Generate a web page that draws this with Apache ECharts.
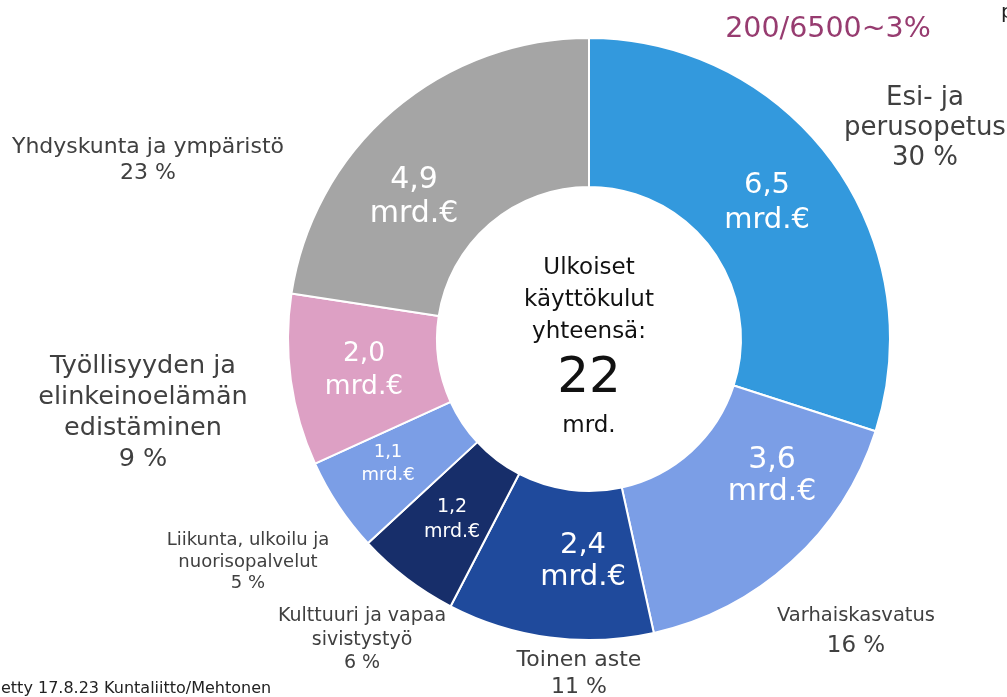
<!DOCTYPE html>
<html>
<head>
<meta charset="utf-8">
<script src="https://cdn.jsdelivr.net/npm/echarts@6/dist/echarts.min.js"></script>
<style>
  html, body { margin: 0; padding: 0; background: #fff; }
  #chart { width: 1007px; height: 697px; }
</style>
</head>
<body>
<div id="chart"></div>
<script>
// menoerät, mrd. €
const names = ['Esi- ja\nperusopetus', 'Varhaiskasvatus', 'Toinen aste', 'Kulttuuri ja vapaa\nsivistystyö',
  'Liikunta, ulkoilu ja\nnuorisopalvelut', 'Työllisyyden ja\nelinkeinoelämän\nedistäminen', 'Yhdyskunta ja ympäristö'];
const values = [6.5, 3.6, 2.4, 1.2, 1.1, 2.0, 4.9];
const valueLabels = ['6,5', '3,6', '2,4', '1,2', '1,1', '2,0', '4,9'];
const percents = ['30 %', '16 %', '11 %', '6 %', '5 %', '9 %', '23 %'];
const colors = ['#3399dd', '#7b9ee6', '#1f4a9c', '#172e6a', '#7b9ee6', '#dda0c4', '#a5a5a5'];

// label placement (layout only): [x, y, fontSize, lineHeight]
const innerPos = [[767, 203, 29, 35], [772, 476, 30, 32], [583, 561, 29, 32], [452, 520, 19, 25],
  [388, 464, 18, 23], [364, 371, 26.5, 33], [414, 197, 30, 34]];
const outerPos = [[925, 128, 26, 30], [856, 631, 19.5, 30], [579, 674, 22, 27], [362, 640, 19, 23.5],
  [248, 562, 18, 21.5], [143, 413, 25.5, 31], [148, 160, 22, 26]];

const font = '"DejaVu Sans", Verdana, sans-serif';
const chart = echarts.init(document.getElementById('chart'));

const innerData = values.map((v, i) => ({
  value: v,
  name: names[i],
  itemStyle: { color: colors[i] },
  label: {
    formatter: valueLabels[i] + '\nmrd.€',
    fontSize: innerPos[i][2],
    lineHeight: innerPos[i][3]
  }
}));

const outerData = values.map((v, i) => {
  const lbl = {
    formatter: names[i] + '\n' + percents[i],
    fontSize: outerPos[i][2],
    lineHeight: outerPos[i][3]
  };
  if (i === 1) {
    lbl.formatter = '{a|' + names[i] + '}\n{b|' + percents[i] + '}';
    lbl.rich = {
      a: { fontSize: 19.5, lineHeight: 30, color: '#404040', fontFamily: font },
      b: { fontSize: 23, lineHeight: 30, color: '#404040', fontFamily: font }
    };
  }
  return { value: v, name: names[i], label: lbl };
});

chart.setOption({
  animation: false,
  textStyle: { fontFamily: font },
  title: [
    { text: '200/6500~3%', left: 823, top: 10, textAlign: 'center',
      textStyle: { color: '#973c70', fontSize: 28.5, fontWeight: 'normal', fontFamily: font } },
    { text: 'p', left: 996, top: -2,
      textStyle: { color: '#222', fontSize: 20, fontWeight: 'normal', fontFamily: font } },
    { text: 'etty 17.8.23 Kuntaliitto/Mehtonen', left: 1, top: 681, padding: 0,
      textStyle: { color: '#222', fontSize: 16, fontWeight: 'normal', fontFamily: font } }
  ],
  graphic: [{
    type: 'text',
    style: {
      text: '{a|Ulkoiset\nkäyttökulut\nyhteensä:}\n{b|22}\n{a|mrd.}',
      x: 589, y: 347,
      align: 'center', verticalAlign: 'middle',
      rich: {
        a: { fontSize: 23, lineHeight: 32, fill: '#111', fontFamily: font, align: 'center' },
        b: { fontSize: 50, lineHeight: 62, fill: '#111', fontFamily: font, align: 'center' }
      }
    }
  }],
  series: [
    {
      type: 'pie',
      center: [589, 339],
      radius: [152, 301],
      startAngle: 90,
      clockwise: true,
      avoidLabelOverlap: false,
      itemStyle: { borderColor: '#fff', borderWidth: 2 },
      label: { show: true, position: 'inside', color: '#fff', fontFamily: font, align: 'center' },
      labelLine: { show: false },
      labelLayout: p => ({ x: innerPos[p.dataIndex][0], y: innerPos[p.dataIndex][1], align: 'center', verticalAlign: 'middle' }),
      data: innerData,
      silent: true
    },
    {
      type: 'pie',
      center: [589, 339],
      radius: [152, 301],
      startAngle: 90,
      clockwise: true,
      avoidLabelOverlap: false,
      itemStyle: { color: 'rgba(0,0,0,0)' },
      label: { show: true, position: 'outside', color: '#404040', fontFamily: font, align: 'center' },
      labelLine: { show: false },
      labelLayout: p => ({ x: outerPos[p.dataIndex][0], y: outerPos[p.dataIndex][1], align: 'center', verticalAlign: 'middle' }),
      data: outerData,
      silent: true
    }
  ]
});
</script>
</body>
</html>
